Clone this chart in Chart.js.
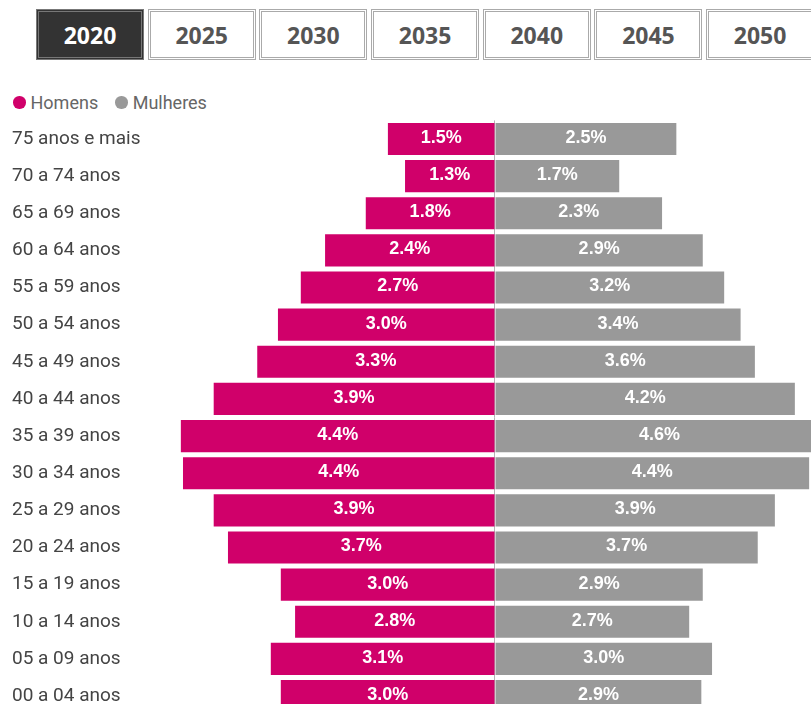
<!DOCTYPE html>
<html lang="pt">
<head>
<meta charset="utf-8">
<title>Pirâmide etária</title>
<script src="https://cdn.jsdelivr.net/npm/chart.js@4.4.1/dist/chart.umd.min.js"></script>
<style>
  html, body { margin: 0; padding: 0; background: #fff; overflow: hidden; }
  body { width: 811px; height: 704px; position: relative; font-family: Roboto, "Noto Sans", sans-serif; }
  .anos { position: absolute; top: 9px; left: 36px; display: flex; gap: 3.7px; }
  .anos button {
    width: 108px; height: 51px; box-sizing: border-box;
    border: 3px double #aaa; background: #fff; color: #555;
    font: 700 23px "Open Sans", sans-serif; padding: 0; cursor: pointer;
  }
  .anos button.ativo { background: #333; color: #fff; border-color: #777; }
  .legenda { position: absolute; top: 92px; left: 13px; display: flex; gap: 17px; font-size: 18px; color: #666; }
  .legenda span { display: flex; align-items: center; gap: 5px; }
  .legenda i { display: inline-block; width: 12.5px; height: 12.5px; border-radius: 50%; }
  .grafico { position: absolute; top: 106px; left: 0; width: 811px; height: 623px; }
</style>
</head>
<body>
<div class="anos" id="anos"></div>
<div class="legenda" id="legenda"></div>
<div class="grafico"><canvas id="piramide"></canvas></div>
<script>
const anos = ['2020', '2025', '2030', '2035', '2040', '2045', '2050'];
const faixas = [
  '75 anos e mais', '70 a 74 anos', '65 a 69 anos', '60 a 64 anos',
  '55 a 59 anos', '50 a 54 anos', '45 a 49 anos', '40 a 44 anos',
  '35 a 39 anos', '30 a 34 anos', '25 a 29 anos', '20 a 24 anos',
  '15 a 19 anos', '10 a 14 anos', '05 a 09 anos', '00 a 04 anos'
];
// % da população (2020)
const homens = [1.50, 1.26, 1.81, 2.38, 2.72, 3.04, 3.33, 3.94, 4.40, 4.37, 3.94, 3.74, 3.00, 2.80, 3.14, 3.00];
const mulheres = [2.54, 1.74, 2.34, 2.91, 3.21, 3.44, 3.64, 4.20, 4.60, 4.40, 3.92, 3.68, 2.91, 2.72, 3.04, 2.89];

const corHomens = '#d0006a';
const corMulheres = '#999999';

// botões de ano
const anosDiv = document.getElementById('anos');
anos.forEach((ano, i) => {
  const b = document.createElement('button');
  b.textContent = ano;
  if (i === 0) b.className = 'ativo';
  anosDiv.appendChild(b);
});

// legenda
const legendaDiv = document.getElementById('legenda');
[['Homens', corHomens], ['Mulheres', corMulheres]].forEach(([nome, cor]) => {
  const s = document.createElement('span');
  s.innerHTML = '<i style="background:' + cor + '"></i>' + nome;
  legendaDiv.appendChild(s);
});

// rótulos dentro das barras
const rotulos = {
  id: 'rotulos',
  afterDatasetsDraw(chart) {
    const ctx = chart.ctx;
    ctx.save();
    ctx.font = 'bold 18px "Liberation Sans", Arial, sans-serif';
    ctx.fillStyle = '#fff';
    ctx.textAlign = 'center';
    ctx.textBaseline = 'middle';
    chart.data.datasets.forEach((ds, i) => {
      chart.getDatasetMeta(i).data.forEach((bar, j) => {
        const { x, y, base } = bar.getProps(['x', 'y', 'base'], true);
        const txt = Math.abs(ds.data[j]).toFixed(1) + '%';
        ctx.fillText(txt, (x + base) / 2, y - 1);
      });
    });
    ctx.restore();
  }
};

new Chart(document.getElementById('piramide'), {
  type: 'bar',
  data: {
    labels: faixas,
    datasets: [
      { label: 'Homens', data: homens.map(v => -v), backgroundColor: corHomens },
      { label: 'Mulheres', data: mulheres, backgroundColor: corMulheres }
    ]
  },
  options: {
    indexAxis: 'y',
    responsive: true,
    maintainAspectRatio: false,
    animation: false,
    layout: { padding: { left: 12, right: 0, top: 0, bottom: 0 } },
    plugins: {
      legend: { display: false },
      tooltip: { enabled: false }
    },
    datasets: {
      bar: { categoryPercentage: 1, barPercentage: 0.865 }
    },
    scales: {
      x: {
        stacked: true,
        min: -4.664,
        max: 4.426,
        ticks: { display: false, stepSize: 1 },
        border: { display: false },
        grid: {
          drawTicks: false,
          color: c => (c.tick && c.tick.value === 0 ? '#b5b5b5' : 'transparent')
        }
      },
      y: {
        stacked: true,
        afterFit: s => { s.width = 150; },
        grid: { display: false },
        border: { display: false },
        ticks: {
          crossAlign: 'far',
          color: '#444',
          font: { family: 'Roboto', size: 19 }
        }
      }
    }
  },
  plugins: [rotulos]
});
</script>
</body>
</html>
